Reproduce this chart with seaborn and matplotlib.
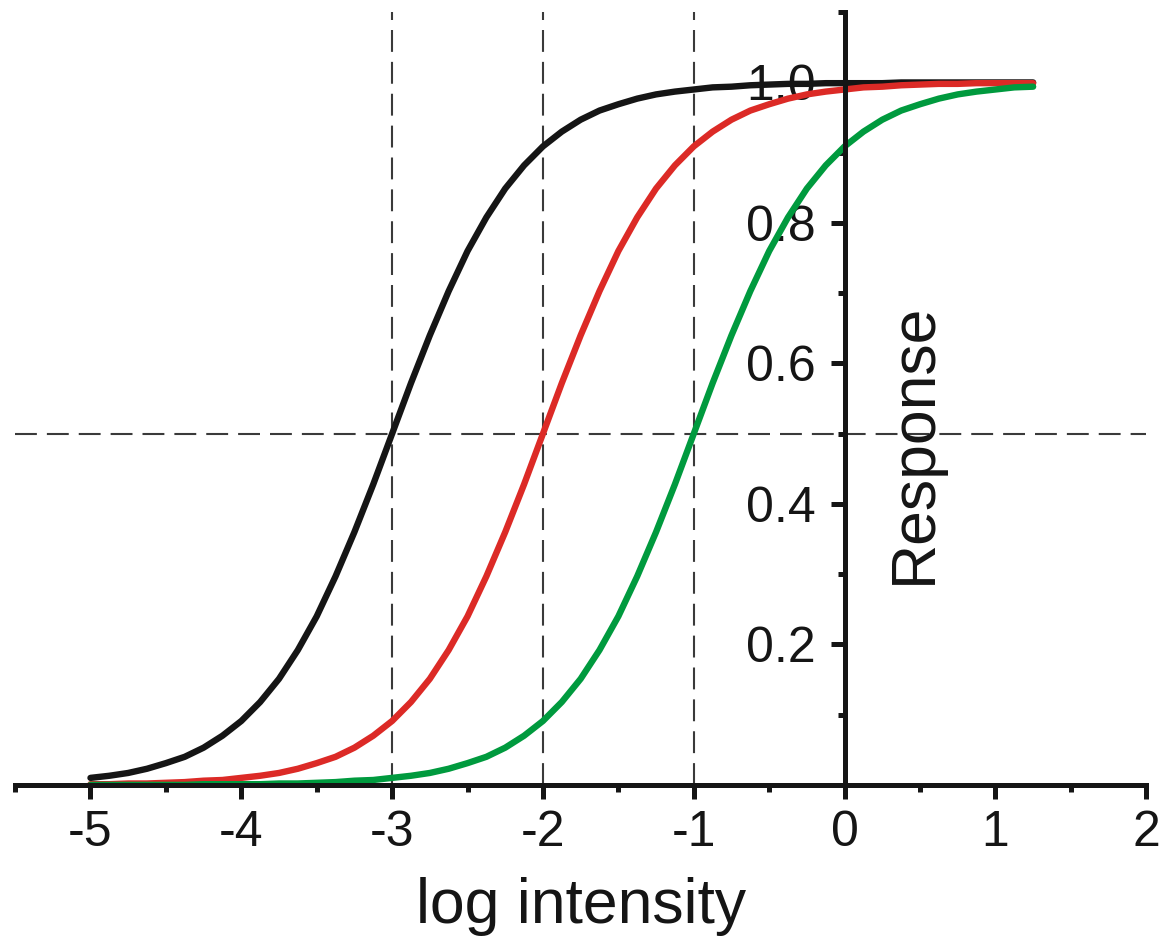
import pandas as pd
import seaborn as sns
import matplotlib.pyplot as plt
import numpy as np
from matplotlib.ticker import MultipleLocator

log_intensity = [-5.0, -4.875, -4.75, -4.625, -4.5, -4.375, -4.25, -4.125, -4.0, -3.875,
                 -3.75, -3.625, -3.5, -3.375, -3.25, -3.125, -3.0, -2.875, -2.75, -2.625,
                 -2.5, -2.375, -2.25, -2.125, -2.0, -1.875, -1.75, -1.625, -1.5, -1.375,
                 -1.25, -1.125, -1.0, -0.875, -0.75, -0.625, -0.5, -0.375, -0.25, -0.125,
                 0.0, 0.125, 0.25, 0.375, 0.5, 0.625, 0.75, 0.875, 1.0, 1.125, 1.25]
black_curve = [0.010, 0.013, 0.017, 0.023, 0.031, 0.040, 0.053, 0.070, 0.091, 0.118,
               0.151, 0.192, 0.240, 0.297, 0.360, 0.428, 0.500, 0.572, 0.640, 0.703,
               0.760, 0.808, 0.849, 0.882, 0.909, 0.930, 0.947, 0.960, 0.969, 0.977,
               0.983, 0.987, 0.990, 0.993, 0.994, 0.996, 0.997, 0.998, 0.998, 0.999,
               0.999, 0.999, 0.999, 1.000, 1.000, 1.000, 1.000, 1.000, 1.000, 1.000, 1.000]
red_curve = [0.001, 0.001, 0.002, 0.002, 0.003, 0.004, 0.006, 0.007, 0.010, 0.013,
             0.017, 0.023, 0.031, 0.040, 0.053, 0.070, 0.091, 0.118, 0.151, 0.192,
             0.240, 0.297, 0.360, 0.428, 0.500, 0.572, 0.640, 0.703, 0.760, 0.808,
             0.849, 0.882, 0.909, 0.930, 0.947, 0.960, 0.969, 0.977, 0.983, 0.987,
             0.990, 0.993, 0.994, 0.996, 0.997, 0.998, 0.998, 0.999, 0.999, 0.999, 0.999]
green_curve = [0.000, 0.000, 0.000, 0.000, 0.000, 0.000, 0.001, 0.001, 0.001, 0.001,
               0.002, 0.002, 0.003, 0.004, 0.006, 0.007, 0.010, 0.013, 0.017, 0.023,
               0.031, 0.040, 0.053, 0.070, 0.091, 0.118, 0.151, 0.192, 0.240, 0.297,
               0.360, 0.428, 0.500, 0.572, 0.640, 0.703, 0.760, 0.808, 0.849, 0.882,
               0.909, 0.930, 0.947, 0.960, 0.969, 0.977, 0.983, 0.987, 0.990, 0.993, 0.994]
half_points = [-3, -2, -1]
x_ticks = [-5, -4, -3, -2, -1, 0, 1, 2]
y_ticks = [0.2, 0.4, 0.6, 0.8, 1.0]

sns.set_style('white')
plt.rcParams['font.family'] = ['Liberation Sans', 'DejaVu Sans']
plt.rcParams['axes.unicode_minus'] = False
plt.rcParams['text.color'] = '#151515'
plt.rcParams['xtick.color'] = '#151515'
plt.rcParams['ytick.color'] = '#151515'
plt.rcParams['axes.labelcolor'] = '#151515'

n = len(log_intensity)
# long-form table for seaborn
df = pd.DataFrame({
    'x': log_intensity * 3,
    'y': black_curve + red_curve + green_curve,
    'curve': ['black'] * n + ['red'] * n + ['green'] * n,
})
colors = {'black': '#151515', 'red': '#dc2a26', 'green': '#009a3e'}

fig = plt.figure(figsize=(11.59, 9.4), dpi=100)
ax = fig.add_axes([0.013, 0.165, 0.976, 0.822])

# dashed guide lines
dash = (0, (10.5, 4.8))
for xv in half_points:
    ax.axvline(xv, color='#3a3a3a', lw=1.5, ls=dash, zorder=1)
ax.axhline(0.5, color='#3a3a3a', lw=1.5, ls=dash, zorder=1)

sns.lineplot(data=df, x='x', y='y', hue='curve', palette=colors, lw=4.6,
             legend=False, ax=ax)

ax.set_xlim(-5.5, 2)
ax.set_ylim(0, 1.1)

# axes crossing at the origin
ax.spines['top'].set_visible(False)
ax.spines['right'].set_visible(False)
ax.spines['left'].set_position(('data', 0))
ax.spines['bottom'].set_position(('data', 0))
for s in ['left', 'bottom']:
    ax.spines[s].set_linewidth(3.6)
    ax.spines[s].set_color('#151515')

ax.set_xticks(x_ticks)
ax.set_xticklabels([str(v) for v in x_ticks])
ax.set_yticks(y_ticks)
ax.set_yticklabels(['%.1f' % v for v in y_ticks])
ax.xaxis.set_minor_locator(MultipleLocator(0.5))
ax.yaxis.set_minor_locator(MultipleLocator(0.1))
ax.tick_params(which='both', bottom=True, left=True)
ax.tick_params(which='major', direction='out', length=10, width=3.6,
               color='#151515', labelsize=36, pad=8)
ax.tick_params(which='minor', direction='out', length=5, width=3.6, color='#151515')
ax.tick_params(axis='y', pad=11)

ax.set_xlabel('log intensity', fontsize=45, labelpad=15)
ax.set_ylabel('')
ax.text(0.465, 0.486, 'Response', rotation=90, ha='center', va='center', fontsize=45)

fig.savefig('out.png', dpi=100)
